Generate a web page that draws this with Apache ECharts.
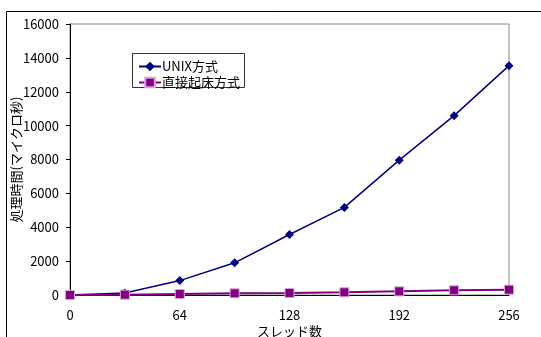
<!DOCTYPE html>
<html><head><meta charset="utf-8">
<script src="https://cdn.jsdelivr.net/npm/echarts@6/dist/echarts.min.js"></script>
<style>html,body{margin:0;padding:0;background:#fff}#c{width:541px;height:337px}</style>
</head><body><div id="c"></div>
<script>
const threads = [0, 32, 64, 96, 128, 160, 192, 224, 256];
const unixTimes = [0, 120, 850, 1900, 3570, 5170, 7960, 10590, 13540];
const directTimes = [0, 20, 60, 100, 120, 160, 215, 275, 315];
const seriesNames = ['UNIX方式', '直接起床方式'];
const xTicks = [0, 64, 128, 192, 256];
const yTicks = [0, 2000, 4000, 6000, 8000, 10000, 12000, 14000, 16000];
const xName = 'スレッド数';
const yName = '処理時間(マイクロ秒)';

const font = '"Noto Sans CJK JP", sans-serif';
const chart = echarts.init(document.getElementById('c'), null, {renderer: 'canvas'});
chart.setOption({
  animation: false,
  backgroundColor: '#fff',
  textStyle: {fontFamily: font},
  graphic: [
    {type: 'rect', shape: {x: 6.5, y: 11.5, width: 600, height: 400}, style: {fill: 'none', stroke: '#000', lineWidth: 1}, z: -1},
    {type: 'rect', shape: {x: 70, y: 24, width: 439, height: 271}, style: {fill: 'none', stroke: '#888', lineWidth: 1}, z: 0},
    {type: 'rect', shape: {x: 132.5, y: 53.5, width: 112, height: 34}, style: {fill: '#fff', stroke: '#333', lineWidth: 1}, z: 5}
  ],
  grid: {left: 70, right: 32, top: 24, bottom: 42, containLabel: false, outerBoundsMode: 'none'},
  legend: {
    left: 133, top: 55, orient: 'vertical', itemGap: 3, itemWidth: 22, itemHeight: 12,
    textStyle: {fontSize: 13, color: '#000', fontFamily: font, padding: [0,0,0,-4]},
    data: seriesNames,
    z: 10
  },
  xAxis: {
    type: 'value', min: 0, max: 256, interval: 64,
    name: xName, nameLocation: 'middle', nameGap: 30, nameMoveOverlap: false,
    nameTextStyle: {fontSize: 13, color: '#000', fontFamily: font},
    axisLine: {show: true, lineStyle: {color: '#000'}},
    axisTick: {show: false},
    splitLine: {show: false},
    axisLabel: {fontSize: 13, color: '#000', margin: 14, fontFamily: font}
  },
  yAxis: {
    type: 'value', min: 0, max: 16000, interval: 2000,
    name: yName, nameLocation: 'middle', nameGap: 47, nameRotate: 90, nameMoveOverlap: false,
    nameTextStyle: {fontSize: 13, color: '#000', fontFamily: font},
    axisLine: {show: true, lineStyle: {color: '#000'}},
    axisTick: {show: true, inside: false, length: 4, lineStyle: {color: '#000'}},
    splitLine: {show: false},
    axisLabel: {fontSize: 13, color: '#000', margin: 11, fontFamily: font, formatter: v => String(v)}
  },
  series: [
    {
      name: seriesNames[0], type: 'line', data: threads.map((t, i) => [t, unixTimes[i]]),
      symbol: 'diamond', symbolSize: 9,
      lineStyle: {color: '#000080', width: 1.5},
      itemStyle: {color: '#000080'}, z: 3
    },
    {
      name: seriesNames[1], type: 'line', data: threads.map((t, i) => [t, directTimes[i]]),
      symbol: 'rect', symbolSize: 9,
      lineStyle: {color: '#800080', width: 2},
      itemStyle: {color: '#800080', borderColor: '#d9a0d9', borderWidth: 1}, z: 4
    }
  ]
});
</script></body></html>
